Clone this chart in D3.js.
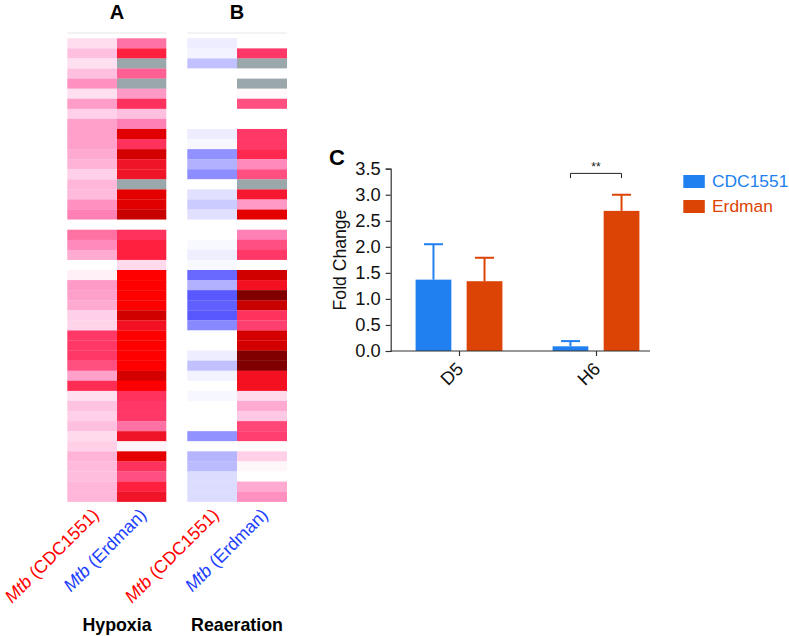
<!DOCTYPE html>
<html><head><meta charset="utf-8">
<script src="https://cdn.jsdelivr.net/npm/d3@7"></script>
<style>html,body{margin:0;padding:0;background:#fff}svg{display:block}text{font-family:"Liberation Sans",Arial,sans-serif}</style>
</head><body><svg id="c" width="789" height="636"></svg>
<script>
const panelTitles = ["A","B"];
const conditions = ["Hypoxia","Reaeration"];
const strains = ["CDC1551","Erdman"];
// heat values per row, null = no data (grey)
const hypoxiaCDC = [.55,1,.5,1,1.75,.5,1.55,.75,1.5,1.5,1.5,1.35,1.2,.75,1.15,1.1,1.75,2,0,2.22,1.85,1.35,0,.24,1.6,1.5,1.35,.75,.68,3,3,3,2.67,1.5,3.2,.5,.95,.75,1,.6,.75,1.2,1.1,1.05,1.15,1.15];
const hypoxiaErd = [2.2,3.4,null,2.44,null,1.6,3.1,1,2,4.2,3.1,4.3,3.7,3.7,null,4.17,4.2,4.4,0,3.1,3.4,3.4,.6,4,4,4,4,4.33,3.75,4,4,4,4,4.3,4,3.1,3,3,2.22,3.7,.17,4.17,3.1,2.67,3.4,3.7];
const reaerCDC = [-.11,-.07,-.37,0,0,0,0,0,0,-.11,-.05,-.66,-.47,-.68,0,-.18,-.31,-.18,0,0,-.04,-.1,-.04,-.9,-.47,-1,-.95,-1,-.71,0,0,-.11,-.37,-.07,0,-.05,0,0,0,-.66,0,-.45,-.41,-.21,-.21,-.21];
const reaerErd = [0,3,null,0,null,.1,2.67,0,0,3,3,3.25,1.85,2.67,null,3.6,1.6,4.17,0,2,2.67,3,0,4.33,3.75,5,4.4,3.1,2.9,4.3,4.3,5,5,3.75,3.75,.6,1.35,.85,2.8,2.9,.05,.75,.15,0,1.35,1.75];
// bar chart
const timepoints = ["D5","H6"];
const cdcMeans = [1.37,0.09];
const cdcTops = [2.05,0.19];
const erdMeans = [1.34,2.69];
const erdTops = [1.79,3.0];
const yTicks = [0,.5,1,1.5,2,2.5,3,3.5];

const svg = d3.select("#c");
const heat = d3.scaleLinear()
  .domain([-1,0,1,2,3,3.4,3.7,4,4.2,5])
  .range(["#5858ff","#ffffff","#ffc0e0","#ff80b4","#ff3868","#ff2040","#f01428","#ff0000","#e00000","#800000"]);
const GREY = "#9aa8ac";
const rowIdx = d3.range(hypoxiaCDC.length);
const yRow = d3.scaleBand().domain(rowIdx).range([38.3,501.7]);
const columns = [
  {x0:67.3,x1:117,vals:hypoxiaCDC},{x0:117,x1:166.3,vals:hypoxiaErd},
  {x0:187.3,x1:237,vals:reaerCDC},{x0:237,x1:287,vals:reaerErd}];
columns.forEach(c=>{
  svg.append("g").selectAll("rect").data(rowIdx).join("rect")
    .attr("x",c.x0).attr("width",c.x1-c.x0)
    .attr("y",i=>yRow(i)).attr("height",yRow.bandwidth()+.2)
    .attr("fill",i=>c.vals[i]===null?GREY:heat(c.vals[i]));
});
// faint header strips
[[67.3,166.3],[187.3,287]].forEach(([a,b])=>svg.append("rect").attr("x",a).attr("width",b-a).attr("y",32).attr("height",2).attr("fill","#f3f3f3"));

const heatCenters=[117,237];
panelTitles.forEach((t,i)=>svg.append("text").attr("x",heatCenters[i]).attr("y",19).attr("text-anchor","middle").attr("font-weight","bold").attr("font-size",20).text(t));
conditions.forEach((t,i)=>svg.append("text").attr("x",heatCenters[i]).attr("y",631).attr("text-anchor","middle").attr("font-weight","bold").attr("font-size",17.8).text(t));
const labelColor=["#ff0000","#2040ff"];
[[100,516,0],[147.5,516,1],[220,516,0],[269,516,1]].forEach(([x,y,k])=>{
  const t=svg.append("text").attr("transform",`translate(${x},${y}) rotate(-45)`).attr("text-anchor","end").attr("font-size",17.8).attr("fill",labelColor[k]);
  t.append("tspan").attr("font-style","italic").text("Mtb");
  t.append("tspan").text(" ("+strains[k]+")");
});

// bar chart
const BLUE="#2080f0",ORANGE="#dc4405";
const FS=18.3;
const y=d3.scaleLinear().domain([0,3.5]).range([351,168.7]);
const x=d3.scalePoint().domain(timepoints).range([459,596]);
const off=d3.scaleBand().domain(strains).range([-43.4,43.4]).paddingInner(.3);
const axY=svg.append("g").attr("transform","translate(390.7,0)")
  .call(d3.axisLeft(y).tickValues(yTicks).tickFormat(d3.format(".1f")).tickSize(5).tickPadding(5));
axY.selectAll("text").attr("font-size",FS).attr("fill","#111").style("font-family",'"Liberation Sans",Arial,sans-serif');
axY.selectAll("line,path").attr("stroke","#333").attr("stroke-width",1.2);
const seriesData=[{k:strains[0],c:BLUE,m:cdcMeans,t:cdcTops},{k:strains[1],c:ORANGE,m:erdMeans,t:erdTops}];
seriesData.forEach(s=>{
  const g=svg.append("g");
  timepoints.forEach((tp,i)=>{
    const bx=x(tp)+off(s.k),w=off.bandwidth(),cx=bx+w/2;
    g.append("line").attr("x1",cx).attr("x2",cx).attr("y1",y(s.m[i])).attr("y2",y(s.t[i])).attr("stroke",s.c).attr("stroke-width",2);
    g.append("line").attr("x1",cx-9.5).attr("x2",cx+9.5).attr("y1",y(s.t[i])).attr("y2",y(s.t[i])).attr("stroke",s.c).attr("stroke-width",2);
    g.append("rect").attr("x",bx).attr("width",w).attr("y",y(s.m[i])).attr("height",y(0)-y(s.m[i])).attr("fill",s.c);
  });
});
const axX=svg.append("g").attr("transform","translate(0,351)")
  .call(d3.axisBottom(x).tickSize(5).tickPadding(6));
axX.select("path").attr("d","M390.7,0H650").attr("stroke","#333").attr("stroke-width",1.2);
axX.selectAll("line").attr("stroke","#333").attr("stroke-width",1.2);
axX.selectAll("text").attr("font-size",FS).attr("fill","#111").style("font-family",'"Liberation Sans",Arial,sans-serif')
  .attr("text-anchor","end").attr("dy",0).attr("transform","translate(5,19) rotate(-45)").attr("y",0);
svg.append("text").attr("transform","translate(346,260) rotate(-90)").attr("text-anchor","middle").attr("font-size",17.6).attr("fill","#111").text("Fold Change");
svg.append("text").attr("x",329).attr("y",165).attr("font-weight","bold").attr("font-size",22).text("C");
// significance bracket
const bA=x("H6")+off(strains[0])+off.bandwidth()/2,bB=x("H6")+off(strains[1])+off.bandwidth()/2;
svg.append("path").attr("d",d3.line()([[bA,y(3.32)],[bA,y(3.41)],[bB,y(3.41)],[bB,y(3.32)]])).attr("fill","none").attr("stroke","#222").attr("stroke-width",1);
svg.append("text").attr("x",(bA+bB)/2).attr("y",171).attr("text-anchor","middle").attr("font-size",12).attr("fill","#222").text("**");
// legend
seriesData.forEach((s,i)=>{
  const ly=d3.scalePoint().domain(strains).range([175,200])(s.k);
  svg.append("rect").attr("x",683.3).attr("y",ly).attr("width",21.5).attr("height",13).attr("fill",s.c);
  svg.append("text").attr("x",712).attr("y",ly+12).attr("font-size",17.4).attr("fill",s.c).text(s.k);
});
</script></body></html>
